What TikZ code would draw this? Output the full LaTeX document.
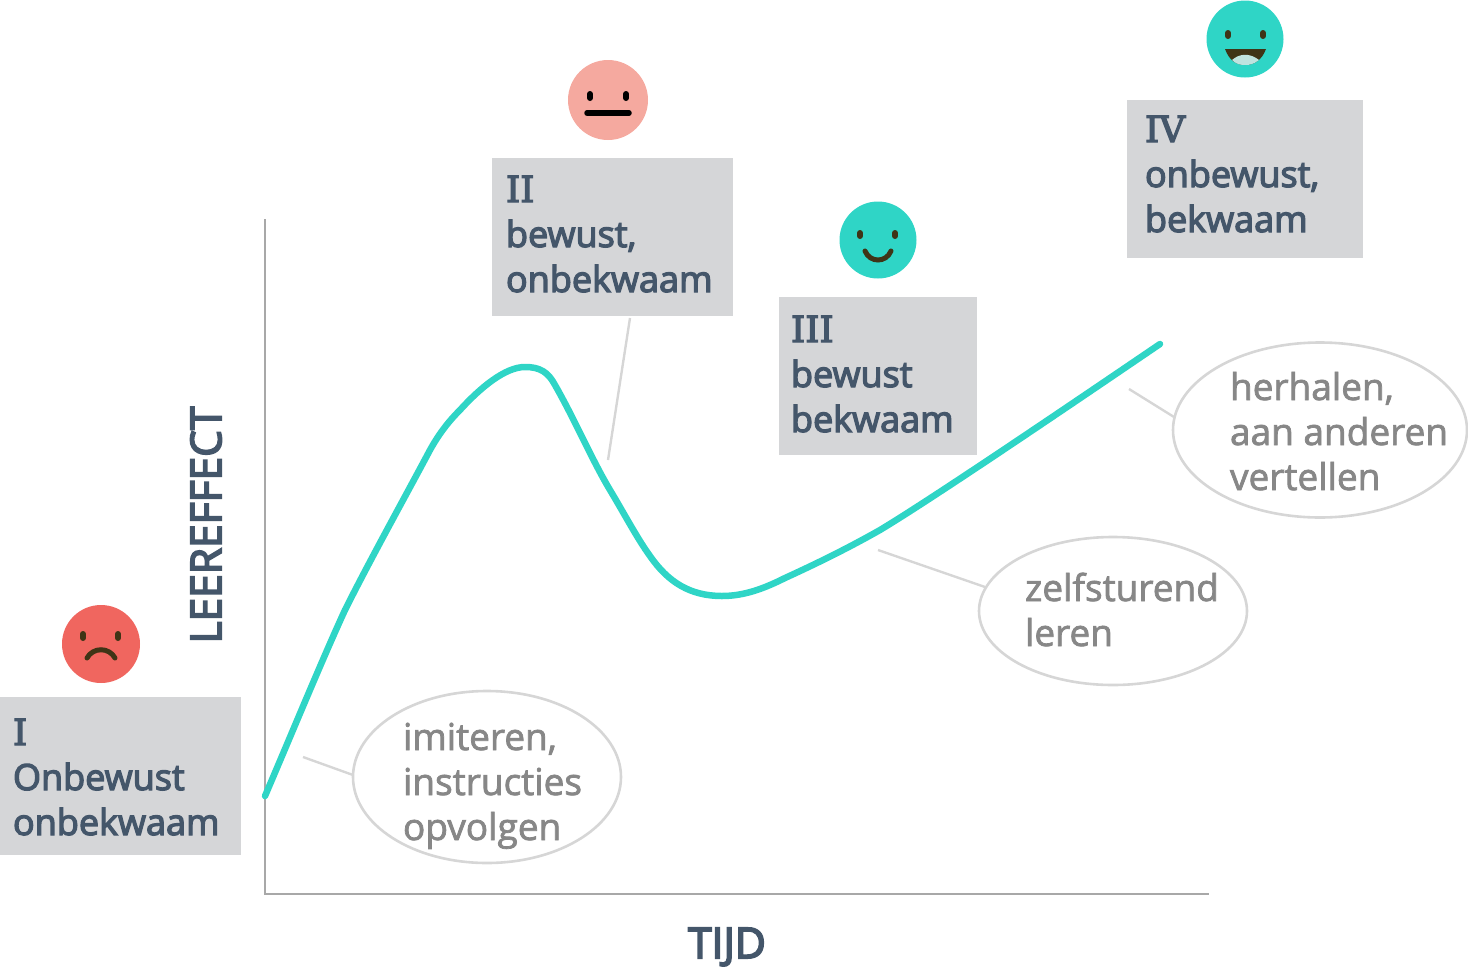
\documentclass[tikz,border=0pt]{standalone}
\usepackage{fontspec}
\usetikzlibrary{shapes.geometric}
\setmainfont{Open Sans}
\newfontfamily\stagefont[FakeBold=3.5]{Open Sans}
\newfontfamily\bubblefont[FakeBold=2]{Open Sans}
\newfontfamily\numfont[FakeBold=3.5]{DejaVu Serif}
\newfontfamily\axisfont[FakeBold=4]{Open Sans}
\definecolor{boxgray}{HTML}{D5D6D8}
\definecolor{ink}{HTML}{44566A}
\definecolor{mute}{HTML}{878787}
\definecolor{ring}{HTML}{D6D6D6}
\definecolor{axisgray}{HTML}{A8A8A8}
\definecolor{teal}{HTML}{2FD5C6}
\definecolor{faceink}{HTML}{3F3416}
\definecolor{sadred}{HTML}{F0665F}
\definecolor{midpink}{HTML}{F5A99F}
\definecolor{tonguec}{HTML}{BFE3DF}
\tikzset{
  x=1pt,y=-1pt,
  stagebox/.style={fill=boxgray,draw=none,anchor=north west,inner sep=0pt,outer sep=0pt},
  stagetext/.style={anchor=base west,inner sep=0pt,outer sep=0pt,align=left,text=ink,font=\stagefont\fontsize{36}{45}\selectfont},
  bubble/.style={draw=ring,line width=2.6pt,ellipse,fill=white,inner sep=0pt,outer sep=0pt},
  bubbletext/.style={anchor=base west,inner sep=0pt,outer sep=0pt,align=left,text=mute,font=\bubblefont\fontsize{37}{45}\selectfont},
  leader/.style={draw=ring,line width=2.4pt},
  axisline/.style={draw=axisgray,line width=2.8pt},
  face/.style={circle,inner sep=0pt,outer sep=0pt,draw=none},
  eye/.style={draw=faceink,line width=6pt,line cap=round},
  feature/.style={draw=faceink,line width=5pt,line cap=round},
  axislabel/.style={text=ink,inner sep=0pt,font=\axisfont\fontsize{42.5}{42.5}\selectfont},
}
\begin{document}
\begin{tikzpicture}
\useasboundingbox (0,0) rectangle (1468,967);
% axes
\coordinate (o) at (265,894);
\coordinate (ytop) at (265,219);
\coordinate (xend) at (1209,894);
\draw[axisline] (ytop) -- (o) -- (xend);
\node[axislabel,rotate=90,anchor=center] (yl) at (206,525) {LEEREFFECT};
\node[axislabel,anchor=center] (xl) at (727,947) {TIJD};
% boxes
\node[stagebox,minimum width=241pt,minimum height=158pt] (b1) at (0,697) {};
\node[stagebox,minimum width=241pt,minimum height=158pt] (b2) at (492,158) {};
\node[stagebox,minimum width=198pt,minimum height=158pt] (b3) at (779,297) {};
\node[stagebox,minimum width=236pt,minimum height=158pt] (b4) at (1127,100) {};
\node[stagetext] (t1) at (13,835) {{\numfont I}\\Onbewust\\onbekwaam};
\node[stagetext] (t2) at (506,292) {{\numfont II}\\bewust,\\onbekwaam};
\node[stagetext] (t3) at (791,432) {{\numfont III}\\bewust\\bekwaam};
\node[stagetext] (t4) at (1145,232) {{\numfont IV}\\onbewust,\\bekwaam};
% bubbles
\node[bubble,minimum width=268pt,minimum height=172pt] (e1) at (487,777) {};
\node[bubble,minimum width=268pt,minimum height=148pt] (e2) at (1113,611) {};
\node[bubble,minimum width=294pt,minimum height=175pt] (e3) at (1320,430) {};
\node[bubbletext] (u1) at (403,840) {imiteren,\\instructies\\opvolgen};
\node[bubbletext] (u2) at (1025,646) {zelfsturend\\leren};
\node[bubbletext] (u3) at (1230,490) {herhalen,\\aan anderen\\vertellen};
% leaders
\coordinate (l1) at (303,757);
\coordinate (l2) at (608,460);
\coordinate (l3) at (878,550);
\coordinate (l4) at (1129,389);
\coordinate (bb2) at (630,318);
\coordinate (e1l) at (353,775);
\coordinate (e2l) at (985,587);
\coordinate (e3l) at (1174,417);
\draw[leader] (l1) -- (e1l);
\draw[leader] (bb2) -- (l2);
\draw[leader] (l3) -- (e2l);
\draw[leader] (l4) -- (e3l);
% curve
\draw[teal,line width=6.5pt,line cap=round,line join=round]
  (265,796) .. controls (292,733) and (322,660) .. (345,610)
  .. controls (370,560) and (405,497) .. (430,450)
  .. controls (440,432) and (450,420) .. (460,410)
  .. controls (480,388) and (505,367) .. (525,367)
  .. controls (540,367) and (548,372) .. (555,385)
  .. controls (575,420) and (592,460) .. (610,490)
  .. controls (625,515) and (637,538) .. (650,556)
  .. controls (668,582) and (690,596) .. (722,596)
  .. controls (745,596) and (765,588) .. (785,578)
  .. controls (820,562) and (850,547) .. (880,530)
  .. controls (930,500) and (1060,412) .. (1160,344);
% faces
\node[face,fill=sadred,minimum size=78pt] (f1) at (101,644) {};
\draw[eye] (83,634) -- (83,638);
\draw[eye] (118,634) -- (118,638);
\draw[feature] (87,658) .. controls (93,647) and (109,647) .. (115,658);
\node[face,fill=midpink,minimum size=80pt] (f2) at (608,100) {};
\draw[eye,draw=black] (590,94) -- (590,98);
\draw[eye,draw=black] (626,94) -- (626,98);
\draw[feature,draw=black,line width=5.5pt] (587,113) -- (629,113);
\node[face,fill=teal,minimum size=77pt] (f3) at (878,240) {};
\draw[eye] (860,233) -- (860,236);
\draw[eye] (895,233) -- (895,236);
\draw[feature] (865,251) .. controls (870,263) and (886,263) .. (891,251);
\node[face,fill=teal,minimum size=77pt] (f4) at (1245,39) {};
\draw[eye] (1228,33) -- (1228,36);
\draw[eye] (1263,33) -- (1263,36);
\fill[faceink] (1225,49) -- (1266,49) .. controls (1262,60) and (1254,65) .. (1245,65) .. controls (1236,65) and (1229,60) .. (1225,49) -- cycle;
\fill[tonguec] (1232,60) .. controls (1240,53) and (1250,53) .. (1259,60) .. controls (1254,64) and (1250,65) .. (1245,65) .. controls (1240,65) and (1236,64) .. (1232,60) -- cycle;
\end{tikzpicture}
\end{document}
